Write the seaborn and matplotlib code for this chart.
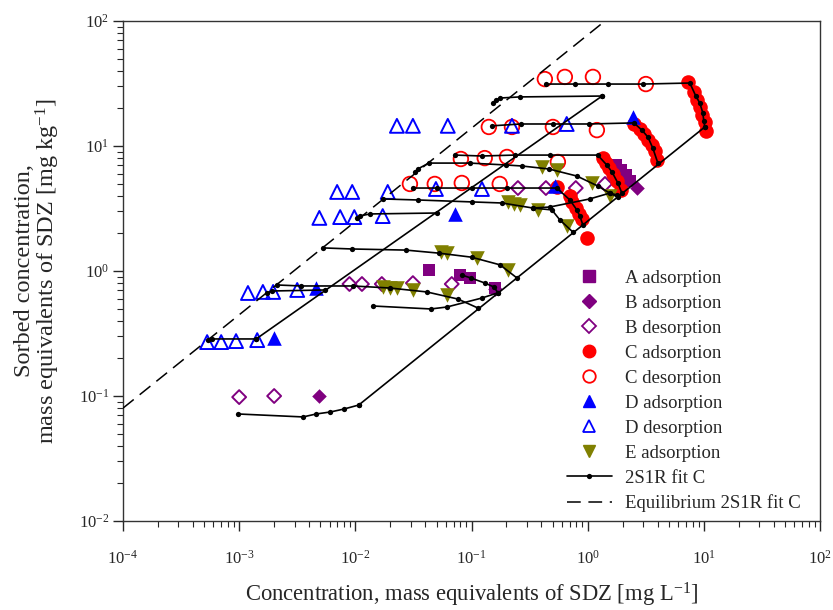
import seaborn as sns
import matplotlib.pyplot as plt
from matplotlib.lines import Line2D
from matplotlib.ticker import LogLocator, LogFormatterSciNotation, NullFormatter

a_ads_x = [0.043, 0.079, 0.097, 0.159, 1.75, 1.93, 2.13, 2.31]
a_ads_y = [1.02, 0.93, 0.88, 0.73, 7.05, 6.43, 5.86, 5.25]

b_ads_x = [0.0049, 0.159, 2.65]
b_ads_y = [0.10, 0.72, 4.61]

b_des_x = [0.001, 0.002, 0.0089, 0.0114, 0.0169, 0.0313, 0.0676, 0.251, 0.437, 0.79, 1.41]
b_des_y = [0.098, 0.10, 0.787, 0.787, 0.787, 0.80, 0.787, 4.61, 4.61, 4.61, 4.97]

c_ads_x = [7.28, 8.19, 8.69, 9.23, 9.6, 10.2, 10.4,
           2.5, 2.81, 3.05, 3.30, 3.57, 3.79, 3.94,
           1.35, 1.43, 1.52, 1.65, 1.78, 1.93,
           0.543, 0.70, 0.74, 0.79, 0.84, 0.89, 0.98]
c_ads_y = [32.5, 27.0, 23.3, 20.5, 17.7, 15.6, 13.2,
           15.0, 13.7, 12.5, 11.2, 10.2, 9.1, 7.73,
           8.0, 7.3, 6.67, 5.97, 5.25, 4.45,
           4.7, 3.98, 3.57, 3.19, 2.86, 2.6, 1.84]

c_des_x = [0.428, 0.636, 1.11, 3.17, 0.141, 0.223, 0.502, 1.2,
           0.081, 0.130, 0.202, 0.554, 0.0295, 0.0483, 0.0825, 0.175]
c_des_y = [34.3, 35.7, 35.7, 31.3, 14.2, 14.2, 14.2, 13.4,
           7.87, 8.0, 8.17, 7.45, 4.97, 4.97, 5.06, 4.97]

d_ads_x = [2.45, 0.52, 0.0718, 0.0046, 0.002]
d_ads_y = [17.1, 4.79, 2.86, 0.73, 0.291]

d_des_x = [0.0228, 0.0313, 0.0625, 0.223, 0.66,
           0.00697, 0.0094, 0.019, 0.0494, 0.123,
           0.0049, 0.0074, 0.0098, 0.0172,
           0.00119, 0.0016, 0.00196, 0.00316,
           0.00053, 0.0007, 0.00094, 0.00143]
d_des_y = [14.5, 14.5, 14.5, 14.5, 15.0,
           4.29, 4.29, 4.29, 4.53, 4.53,
           2.66, 2.7, 2.7, 2.75,
           0.667, 0.68, 0.68, 0.705,
           0.27, 0.27, 0.275, 0.28]

e_ads_x = [0.404, 0.543, 1.09, 1.55, 0.206, 0.232, 0.26, 0.372, 0.66,
           0.0544, 0.0612, 0.111, 0.206, 0.0172, 0.0198, 0.0228, 0.0313, 0.0612]
e_ads_y = [6.79, 6.43, 5.06, 3.98, 3.57, 3.44, 3.37, 3.08, 2.29,
           1.42, 1.39, 1.27, 1.02, 0.745, 0.73, 0.73, 0.705, 0.643]

# ---- 2S1R fit C (model curve pieces) ----
fit_top_x = [0.437, 0.776, 1.49, 2.99, 7.58, 8.53, 9.23, 9.8, 10.0, 10.2]
fit_top_y = [31.3, 31.3, 31.3, 31.3, 31.9, 25.1, 22.1, 18.4, 15.8, 14.2]
fit_25_x = [0.153, 0.162, 0.176, 0.261, 1.33]
fit_25_y = [22.1, 23.3, 24.2, 24.7, 25.1]
fit_15_x = [0.15, 0.266, 0.502, 1.02, 2.5, 2.93, 3.3, 3.64, 4.02]
fit_15_y = [14.5, 15.0, 15.0, 15.0, 15.3, 13.4, 11.8, 9.6, 7.3]
fit_8_x = [0.0718, 0.123, 0.236, 0.473, 1.22, 1.46, 1.62, 1.82, 1.97]
fit_8_y = [8.46, 8.32, 8.46, 8.46, 8.46, 7.05, 6.19, 5.06, 4.2]
fit_7_x = [0.0325, 0.0345, 0.0429, 0.0967, 0.198, 0.271, 0.463, 0.807, 1.22, 1.55, 1.82]
fit_7_y = [6.19, 6.55, 7.3, 7.3, 7.05, 6.92, 6.55, 5.75, 4.79, 4.2, 3.9]
fit_5_x = [0.0312, 0.0503, 0.1008, 0.202, 0.543, 0.703, 0.807, 0.857, 0.91]
fit_5_y = [4.61, 4.61, 4.61, 4.61, 4.61, 3.70, 3.08, 2.75, 2.33]
fit_4_x = [0.0172, 0.0345, 0.1008, 0.183, 0.338, 0.492, 0.577, 0.746]
fit_4_y = [3.77, 3.70, 3.57, 3.5, 3.19, 3.08, 2.56, 2.05]
fit_4b_x = [0.338, 0.473, 1.04, 1.55, 1.78]
fit_4b_y = [3.19, 3.25, 3.77, 4.2, 4.06]
fit_3_x = [0.0103, 0.0109, 0.0133, 0.0503]
fit_3_y = [2.65, 2.75, 2.86, 2.91]
fit_15b_x = [0.00528, 0.0094, 0.0272, 0.0523, 0.1, 0.176, 0.246]
fit_15b_y = [1.53, 1.5, 1.47, 1.39, 1.29, 1.12, 0.88]
fit_08_x = [0.00212, 0.00342, 0.00956, 0.0198, 0.0412, 0.0762, 0.1135]
fit_08_y = [0.773, 0.759, 0.759, 0.731, 0.68, 0.597, 0.506]
fit_07_x = [0.00174, 0.00192, 0.0055]
fit_07_y = [0.667, 0.692, 0.705]
fit_05_x = [0.0141, 0.0447, 0.0613, 0.123, 0.169]
fit_05_y = [0.525, 0.497, 0.515, 0.608, 0.67]
fit_a_x = [0.0825, 0.0987, 0.130, 0.156, 0.169]
fit_a_y = [0.929, 0.879, 0.802, 0.745, 0.67]
fit_03_x = [0.00054, 0.00058, 0.0014]
fit_03_y = [0.281, 0.286, 0.286]
fit_low_x = [0.00098, 0.00355, 0.0046, 0.0061, 0.008, 0.0107]
fit_low_y = [0.0718, 0.068, 0.0718, 0.0745, 0.0787, 0.0847]
fit_diag1_x = [0.0107, 10.2]
fit_diag1_y = [0.0847, 14.2]
fit_diag2_x = [0.0014, 1.33]
fit_diag2_y = [0.286, 25.1]

equil_x = [1e-4, 1.41]
equil_y = [0.08, 100]

fit_pieces = [(fit_top_x, fit_top_y), (fit_25_x, fit_25_y), (fit_15_x, fit_15_y),
              (fit_8_x, fit_8_y), (fit_7_x, fit_7_y), (fit_5_x, fit_5_y),
              (fit_4_x, fit_4_y), (fit_4b_x, fit_4b_y), (fit_3_x, fit_3_y),
              (fit_15b_x, fit_15b_y), (fit_08_x, fit_08_y), (fit_07_x, fit_07_y),
              (fit_05_x, fit_05_y), (fit_a_x, fit_a_y), (fit_03_x, fit_03_y),
              (fit_low_x, fit_low_y), (fit_diag1_x, fit_diag1_y), (fit_diag2_x, fit_diag2_y)]

PURPLE = "#800080"
RED = "#ff0000"
BLUE = "#0000ff"
OLIVE = "#808000"

sns.set_style("ticks")
plt.rcParams["font.family"] = ["Liberation Serif", "DejaVu Serif"]
plt.rcParams["mathtext.fontset"] = "custom"
plt.rcParams["mathtext.rm"] = "Liberation Serif"
plt.rcParams["mathtext.it"] = "Liberation Serif:italic"
plt.rcParams["mathtext.default"] = "regular"

fig = plt.figure(figsize=(8.33, 6.10), dpi=100)
ax = fig.add_axes([123 / 833, 1 - 521 / 610, 697 / 833, 500 / 610])

# model lines
for px, py in fit_pieces:
    sns.lineplot(x=px, y=py, sort=False, estimator=None, color="black", lw=1.2,
                 marker="o", markersize=3.8, markeredgewidth=0, ax=ax, zorder=3)
sns.lineplot(x=equil_x, y=equil_y, sort=False, estimator=None, color="black",
             lw=1.1, linestyle=(0, (9, 5)), ax=ax, zorder=3)

# data
sns.scatterplot(x=a_ads_x, y=a_ads_y, marker="s", s=75, color=PURPLE, edgecolor=PURPLE, linewidth=0, ax=ax, zorder=2)
sns.scatterplot(x=b_ads_x, y=b_ads_y, marker="D", s=55, color=PURPLE, edgecolor=PURPLE, linewidth=0, ax=ax, zorder=2)
sns.scatterplot(x=b_des_x, y=b_des_y, marker="D", s=50, color=PURPLE, facecolor="none", edgecolor=PURPLE, linewidth=1.4, ax=ax, zorder=2)
sns.scatterplot(x=c_ads_x, y=c_ads_y, marker="o", s=110, color=RED, edgecolor=RED, linewidth=0, ax=ax, zorder=2)
sns.scatterplot(x=c_des_x, y=c_des_y, marker="o", s=110, color=RED, facecolor="none", edgecolor=RED, linewidth=1.3, ax=ax, zorder=2)
sns.scatterplot(x=d_ads_x, y=d_ads_y, marker="^", s=110, color=BLUE, edgecolor=BLUE, linewidth=0, ax=ax, zorder=2)
sns.scatterplot(x=d_des_x, y=d_des_y, marker="^", s=100, color=BLUE, facecolor="none", edgecolor=BLUE, linewidth=1.4, ax=ax, zorder=2)
sns.scatterplot(x=e_ads_x, y=e_ads_y, marker="v", s=110, color=OLIVE, edgecolor=OLIVE, linewidth=0, ax=ax, zorder=2)

ax.set_xscale("log")
ax.set_yscale("log")
ax.set_xlim(1e-4, 1e2)
ax.set_ylim(1e-2, 1e2)

for axis in (ax.xaxis, ax.yaxis):
    axis.set_major_locator(LogLocator(base=10, numticks=10))
    axis.set_minor_locator(LogLocator(base=10, subs=range(2, 10), numticks=10))
    axis.set_major_formatter(LogFormatterSciNotation())
    axis.set_minor_formatter(NullFormatter())

ax.tick_params(which="major", direction="out", length=7, width=1, labelsize=12)
ax.tick_params(which="minor", direction="out", length=4, width=0.8)
ax.tick_params(axis="x", which="major", pad=14)
ax.tick_params(axis="y", which="major", pad=3)
for sp in ax.spines.values():
    sp.set_linewidth(1.0)
    sp.set_color("#333333")

ax.set_xlabel("Concentration, mass equivalents of SDZ [mg L$^{-1}$]", fontsize=16.3, labelpad=9)
ax.set_ylabel("Sorbed concentration,\nmass equivalents of SDZ [mg kg$^{-1}$]",
              fontsize=17.5, labelpad=12, linespacing=0.95)

handles = [
    Line2D([], [], ls="none", marker="s", ms=8, color=PURPLE),
    Line2D([], [], ls="none", marker="D", ms=7, color=PURPLE),
    Line2D([], [], ls="none", marker="D", ms=7, mfc="none", mec=PURPLE, mew=1.3),
    Line2D([], [], ls="none", marker="o", ms=9, color=RED),
    Line2D([], [], ls="none", marker="o", ms=9, mfc="none", mec=RED, mew=1.3),
    Line2D([], [], ls="none", marker="^", ms=9, color=BLUE),
    Line2D([], [], ls="none", marker="^", ms=9, mfc="none", mec=BLUE, mew=1.3),
    Line2D([], [], ls="none", marker="v", ms=9, color=OLIVE),
    Line2D([], [], color="black", lw=1.2, marker="o", ms=3.8, mew=0),
    Line2D([], [], color="black", lw=1.1, ls=(0, (9, 5))),
]
labels = ["A adsorption", "B adsorption", "B desorption", "C adsorption", "C desorption",
          "D adsorption", "D desorption", "E adsorption", "2S1R fit C", "Equilibrium 2S1R fit C"]
ax.legend(handles, labels, loc="upper left", bbox_to_anchor=(0.637, 0.503), frameon=False,
          fontsize=13.5, borderpad=0, borderaxespad=0, handlelength=2.4, handletextpad=0.7,
          labelspacing=0.42)

fig.savefig("out.png", dpi=100)
